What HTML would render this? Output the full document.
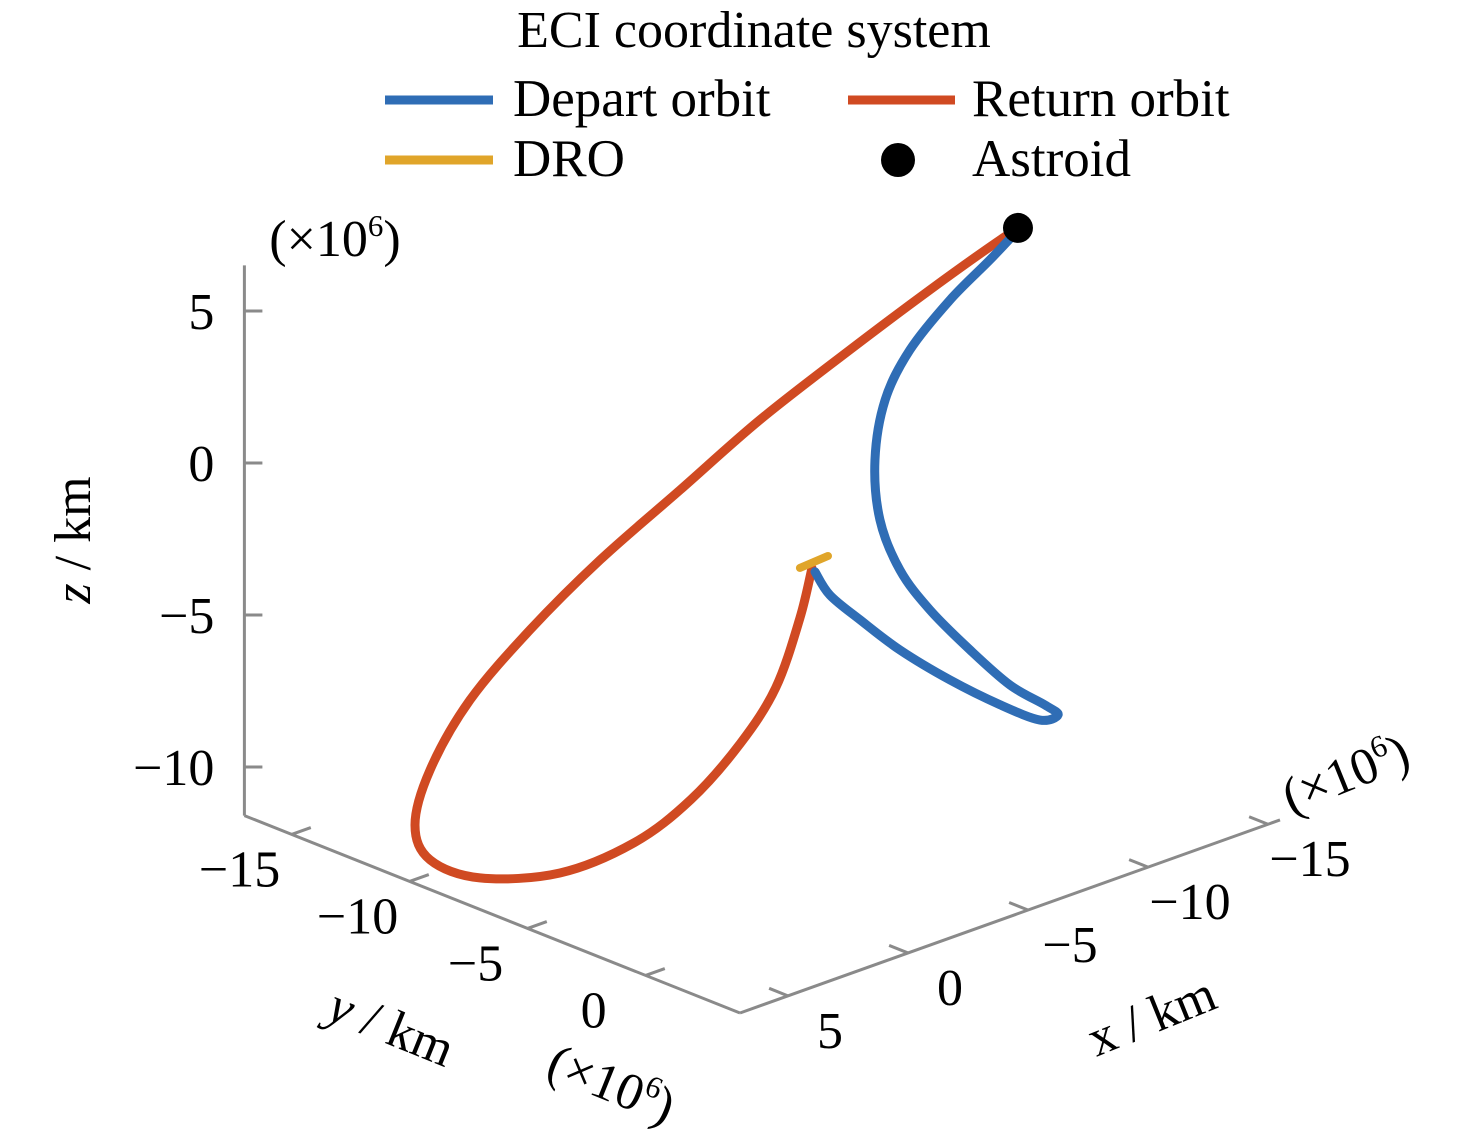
<!DOCTYPE html>
<html><head><meta charset="utf-8">
<style>
body{margin:0;background:#fff;}
svg{display:block;font-family:"Liberation Serif",serif;}
</style></head>
<body>
<svg id="chart" width="1476" height="1147" viewBox="0 0 1476 1147">
  <text x="754" y="47" font-size="52" text-anchor="middle">ECI coordinate system</text>
  <g>
    <line x1="385" y1="100" x2="493" y2="100" stroke="#2f6db5" stroke-width="9"/>
    <text x="513" y="116" font-size="53">Depart orbit</text>
    <line x1="848" y1="100" x2="955" y2="100" stroke="#d04a22" stroke-width="9"/>
    <text x="972" y="116" font-size="53">Return orbit</text>
    <line x1="385" y1="160" x2="493" y2="160" stroke="#e0a52a" stroke-width="9"/>
    <text x="513" y="176" font-size="53">DRO</text>
    <circle cx="898" cy="160" r="17" fill="#000"/>
    <text x="972" y="176" font-size="53">Astroid</text>
  </g>
  <g id="axes"></g>
  <g id="series"></g>
</svg>
<script>
const zTicks=[5,0,-5,-10];
const yTicks=[-15,-10,-5,0];
const xTicks=[5,0,-5,-10,-15];
const returnY=[-0.07,-0.58,-1.60,-3.10,-5.20,-7.60,-10.75,-14.14,-16.25,-16.89,-16.25,-14.56,-12.02,-9.05,-5.66,-2.27,1.54,4.93,7.90,8.53];
const returnZ=[-0.20,-2.00,-4.60,-6.90,-9.40,-11.56,-13.53,-14.74,-14.80,-13.85,-11.84,-9.02,-5.93,-2.71,0.64,4.00,7.48,10.50,13.06,13.52];
const departY=[8.66,7.47,5.78,4.08,3.03,2.60,2.81,3.66,4.93,6.63,8.32,9.81,10.36,9.59,7.90,5.78,3.66,1.97,0.69,0.06];
const departZ=[13.62,12.27,10.43,8.26,6.29,4.18,2.28,0.89,-0.03,-0.82,-1.45,-1.65,-1.80,-2.21,-2.23,-2.07,-1.74,-1.27,-0.85,-0.28];
const droY=[-0.58,0.61];
const droZ=[-0.35,0.41];
const asteroidY=[8.66];
const asteroidZ=[13.69];
const planeX=0;

const NS='http://www.w3.org/2000/svg';
const ZMIN=-11.6;
function proj(x,y,z){
  return [740+(x-7)*(-24)+(y-4)*23.6, 1013+(x-7)*8.58+(y-4)*9.4-(z-ZMIN)*30.4];
}
function mk(tag,attrs,parent){const e=document.createElementNS(NS,tag);for(const k in attrs)e.setAttribute(k,attrs[k]);parent.appendChild(e);return e;}
const axes=document.getElementById('axes');
const series=document.getElementById('series');
const ax='#8a8a8a';
let a=proj(7,-17,ZMIN),b=proj(7,4,ZMIN),c=proj(-15.5,4,ZMIN),t=proj(7,-17,6.5);
let l=mk('line',{x1:a[0],y1:t[1],x2:a[0],y2:a[1],stroke:ax,'stroke-width':3},axes);


l=mk('line',{x1:a[0],y1:a[1],x2:b[0],y2:b[1],stroke:ax,'stroke-width':3},axes);


l=mk('line',{x1:b[0],y1:b[1],x2:c[0],y2:c[1],stroke:ax,'stroke-width':3},axes);


zTicks.forEach(v=>{
  const p=proj(7,-17,v);
  const tk=mk('line',{x1:p[0],y1:p[1],x2:p[0]+18,y2:p[1],stroke:ax,'stroke-width':3},axes);
  
  
  const tx=mk('text',{x:p[0]-30,y:p[1]+18,'font-size':52,'text-anchor':'end'},axes);
  tx.textContent=(v<0?'\u2212'+(-v):v);
  
  
});
yTicks.forEach(v=>{
  const p=proj(7,v,ZMIN),q=proj(6.2,v,ZMIN);
  const tk=mk('line',{x1:p[0],y1:p[1],x2:q[0],y2:q[1],stroke:ax,'stroke-width':3},axes);
  
  
  const tx=mk('text',{x:p[0]-52,y:p[1]+52,'font-size':52,'text-anchor':'middle'},axes);
  tx.textContent=(v<0?'\u2212'+(-v):v);
  
  
});
xTicks.forEach(v=>{
  const p=proj(v,4,ZMIN),q=proj(v,3.2,ZMIN);
  const tk=mk('line',{x1:p[0],y1:p[1],x2:q[0],y2:q[1],stroke:ax,'stroke-width':3},axes);
  
  
  const tx=mk('text',{x:p[0]+42,y:p[1]+52,'font-size':52,'text-anchor':'middle'},axes);
  tx.textContent=(v<0?'\u2212'+(-v):v);
  
  
});
function lab(html,x,y,rot,name){
  const g=mk('text',{x:0,y:0,'font-size':52,'text-anchor':'middle',transform:`translate(${x},${y}) rotate(${rot})`},axes);
  g.innerHTML=html;
  
  
}
lab('(×10<tspan font-size="31" dy="-20">6</tspan><tspan dy="20">)</tspan>',335,256,0,'z-scale-label');
lab('<tspan font-style="italic">z</tspan> / km',90,540,-90,'z-axis-title');
lab('<tspan font-style="italic">y</tspan> / km',385,1043,22,'y-axis-title');
lab('(×10<tspan font-size="31" dy="-20">6</tspan><tspan dy="20">)</tspan>',605,1100,22,'y-scale-label');
lab('x / km',1158,1032,-22,'x-axis-title');
lab('(×10<tspan font-size="31" dy="-20">6</tspan><tspan dy="20">)</tspan>',1352,790,-22,'x-scale-label');

function smooth(pts){
  let d=`M${pts[0][0]},${pts[0][1]}`;
  for(let i=0;i<pts.length-1;i++){
    const p0=pts[Math.max(0,i-1)],p1=pts[i],p2=pts[i+1],p3=pts[Math.min(pts.length-1,i+2)];
    d+=` C${p1[0]+(p2[0]-p0[0])/6},${p1[1]+(p2[1]-p0[1])/6} ${p2[0]-(p3[0]-p1[0])/6},${p2[1]-(p3[1]-p1[1])/6} ${p2[0]},${p2[1]}`;
  }
  return d;
}
function curve(Y,Z,color,name,w){
  const pts=Y.map((y,i)=>proj(planeX,y,Z[i]));
  const p=mk('path',{d:smooth(pts),fill:'none',stroke:color,'stroke-width':w,'stroke-linecap':'round','stroke-linejoin':'round'},series);
  
  
}
curve(returnY,returnZ,'#d04a22','return-orbit-line',9);
curve(departY,departZ,'#2f6db5','depart-orbit-line',9);
curve(droY,droZ,'#e0a52a','dro-line',8);
asteroidY.forEach((y,i)=>{
  const p=proj(planeX,y,asteroidZ[i]);
  const c=mk('circle',{cx:p[0],cy:p[1],r:15,fill:'#000'},series);
  
  
});
</script>
</body></html>
